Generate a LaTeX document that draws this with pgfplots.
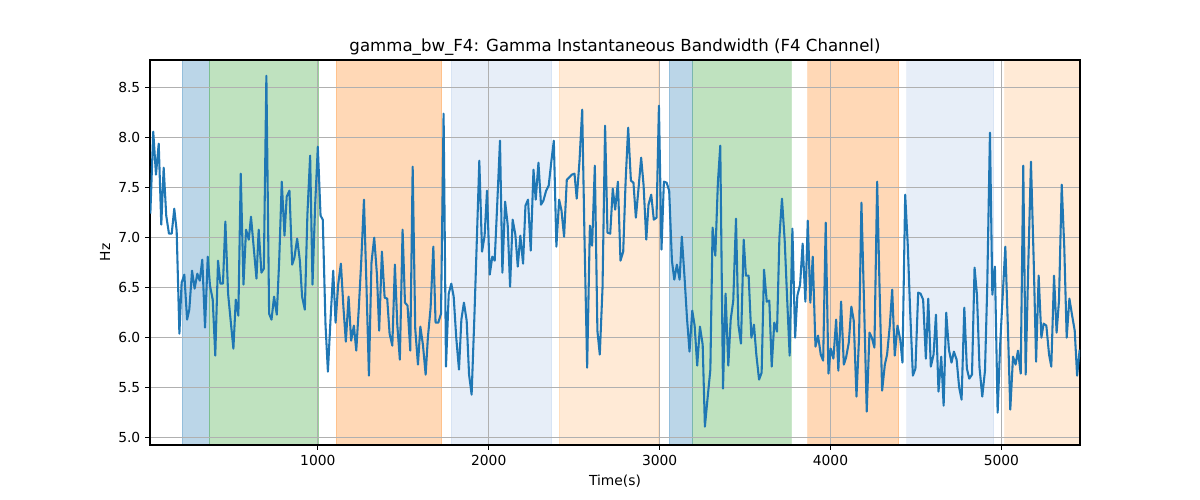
\documentclass[border=0pt]{standalone}
\usepackage{fontspec}
\setmainfont{DejaVu Sans}
\usepackage{pgfplots}
\pgfplotsset{compat=1.18}
\definecolor{tabblue}{HTML}{1F77B4}
\definecolor{tabgreen}{HTML}{2CA02C}
\definecolor{taborange}{HTML}{FF7F0E}
\definecolor{lightblue}{HTML}{AEC7E8}
\definecolor{lightorange}{HTML}{FFBB78}
\definecolor{gridgray}{HTML}{B0B0B0}
\tikzset{span/.style={fill=#1, draw=#1, fill opacity=0.3, draw opacity=0.25, line width=0.5pt}}

\pgfplotstableread{
x y
20 7.24
37 8.06
53 7.63
69 7.94
84 7.13
98 7.70
113 7.22
129 7.04
145 7.04
160 7.29
174 7.07
190 6.04
203 6.55
219 6.63
235 6.18
248 6.28
264 6.67
279 6.49
295 6.64
309 6.57
324 6.78
340 6.10
356 6.81
369 6.52
385 6.38
400 5.82
416 6.77
430 6.54
445 6.54
459 7.16
475 6.44
490 6.17
506 5.89
520 6.38
535 6.22
549 7.64
565 6.53
580 7.08
596 6.98
609 7.21
625 6.90
641 6.59
654 7.08
670 6.65
684 6.69
699 8.62
715 6.24
729 6.18
744 6.41
760 6.23
774 6.77
789 7.56
805 7.02
818 7.41
834 7.47
850 6.73
863 6.80
879 6.99
895 6.77
908 6.41
924 6.28
939 7.23
955 7.82
969 6.53
984 7.31
1000 7.91
1016 7.22
1029 7.18
1045 6.13
1059 5.66
1074 6.17
1090 6.67
1104 6.15
1119 6.53
1135 6.74
1150 6.30
1164 5.96
1180 6.41
1195 5.97
1211 6.12
1225 5.87
1240 6.30
1254 6.76
1270 7.38
1285 6.50
1299 5.62
1314 6.75
1330 7.00
1346 6.63
1359 6.07
1375 6.86
1391 6.40
1406 6.39
1420 6.04
1436 5.92
1451 6.73
1465 6.13
1480 5.78
1496 7.08
1510 6.35
1525 6.32
1541 5.87
1555 7.71
1570 6.09
1586 5.73
1600 6.11
1615 5.93
1631 5.63
1644 6.00
1660 6.30
1676 6.91
1689 6.15
1705 6.15
1721 6.24
1736 8.24
1750 5.71
1766 6.44
1781 6.54
1795 6.41
1810 6.00
1826 5.68
1840 6.18
1855 6.35
1871 6.17
1885 5.63
1900 5.43
1916 6.20
1930 6.95
1945 7.77
1961 6.86
1976 7.02
1990 7.47
2006 6.63
2021 6.81
2035 6.77
2051 7.38
2066 7.97
2080 6.65
2096 7.36
2111 7.13
2125 6.51
2140 7.18
2156 7.03
2170 6.71
2185 7.02
2201 6.74
2215 7.32
2230 7.38
2246 6.87
2262 7.68
2275 7.38
2291 7.75
2306 7.33
2320 7.37
2336 7.47
2351 7.52
2367 7.77
2381 7.97
2396 6.91
2412 7.38
2426 7.27
2441 7.01
2457 7.58
2470 7.60
2486 7.63
2502 7.64
2515 7.39
2531 7.76
2547 8.28
2561 6.95
2576 5.70
2592 7.12
2605 6.92
2621 7.72
2636 6.07
2650 5.83
2666 6.50
2681 8.12
2695 7.05
2711 7.04
2726 7.49
2740 7.28
2756 7.56
2771 6.77
2787 6.86
2801 7.56
2816 8.10
2832 7.57
2847 7.55
2861 7.20
2877 7.50
2892 7.80
2906 7.53
2922 6.98
2935 7.33
2951 7.43
2966 7.18
2982 7.20
2996 8.32
3011 6.88
3025 7.56
3041 7.55
3056 7.47
3072 6.77
3086 6.58
3101 6.73
3117 6.58
3130 7.01
3146 6.60
3160 6.20
3175 5.86
3191 6.27
3205 6.12
3220 5.72
3236 6.11
3252 5.93
3265 5.11
3281 5.40
3297 5.68
3310 7.10
3326 6.82
3341 7.55
3355 7.92
3371 5.49
3386 6.44
3402 5.72
3416 6.18
3431 6.37
3447 7.19
3461 6.13
3476 5.94
3492 6.98
3505 6.62
3521 6.62
3537 6.00
3552 6.13
3566 5.83
3582 5.58
3597 5.65
3611 6.68
3627 6.36
3642 6.37
3656 5.71
3671 6.15
3687 6.06
3701 7.00
3716 7.39
3732 6.97
3746 6.40
3761 5.82
3777 7.09
3793 6.00
3806 6.42
3822 6.53
3837 6.94
3853 6.36
3867 7.17
3882 6.35
3896 6.81
3912 5.91
3927 6.02
3943 5.83
3957 5.77
3972 7.15
3988 5.64
4001 5.89
4017 5.79
4033 6.18
4046 5.67
4062 6.36
4078 5.73
4091 5.80
4107 5.95
4122 6.31
4136 6.17
4152 5.41
4167 6.00
4181 7.35
4197 6.30
4212 5.26
4228 6.05
4242 6.00
4257 5.90
4273 7.56
4287 6.50
4302 5.47
4318 5.73
4331 5.83
4347 6.12
4361 6.48
4376 5.82
4392 6.12
4408 5.98
4421 5.75
4437 7.43
4452 6.93
4466 6.27
4482 5.62
4497 5.69
4513 6.45
4527 6.44
4542 6.38
4558 5.79
4572 6.39
4587 5.71
4603 5.83
4617 6.23
4632 5.46
4648 5.81
4662 5.32
4677 6.25
4693 5.88
4708 5.75
4722 5.86
4738 5.78
4753 5.50
4767 5.38
4783 6.30
4798 5.69
4812 5.59
4828 5.63
4843 6.70
4857 6.43
4872 5.70
4888 5.41
4904 5.67
4917 6.50
4933 8.05
4947 6.43
4962 6.71
4978 5.25
4992 5.90
5007 6.40
5023 6.91
5038 6.10
5052 5.28
5068 5.81
5083 5.73
5097 5.87
5113 5.64
5128 7.72
5142 5.63
5158 6.77
5173 7.76
5189 6.77
5203 5.76
5218 6.62
5234 6.00
5247 6.14
5263 6.12
5279 5.83
5292 5.71
5308 6.62
5323 6.05
5337 6.37
5353 7.53
5368 6.90
5382 6.00
5398 6.39
5413 6.23
5429 6.07
5443 5.62
5458 5.88
}\bwdata

\begin{document}
\begin{tikzpicture}
\begin{axis}[
  name=ax,
  set layers,
  width=9.3in, height=3.85in, scale only axis,
  xmin=18, xmax=5460, ymin=4.926, ymax=8.777,
  xtick={1000,2000,3000,4000,5000},
  ytick={5,5.5,6,6.5,7,7.5,8,8.5},
  /pgf/number format/assume math mode=true,
  x tick label style={/pgf/number format/1000 sep={}},
  y tick label style={/pgf/number format/.cd, fixed, fixed zerofill, precision=1},
  ticklabel style={font=\fontsize{10pt}{12pt}\selectfont},
  tick align=outside, tick pos=left,
  major tick length=3.5pt,
  every tick/.style={black, line width=0.8pt},
  axis line style={line width=0.8pt},
  grid=major,
  grid style={color=gridgray, line width=0.8pt},
  title={gamma\_bw\_F4: Gamma Instantaneous Bandwidth (F4 Channel)},
  every axis title/.style={font=\fontsize{12pt}{14pt}\selectfont, at={(0.5,1)}, anchor=base, yshift=6pt},
  xlabel={Time(s)},
  xlabel style={font=\fontsize{10pt}{12pt}\selectfont, at={(axis description cs:0.5,-0.0935)}, anchor=center},
  ylabel={Hz},
  ylabel style={font=\fontsize{10pt}{12pt}\selectfont, at={(axis description cs:-0.0484,0.5)}, anchor=center},
]
% shaded phases, below the grid (background layer is not clipped)
\begin{pgfonlayer}{axis background}
\filldraw[span=tabblue] (axis cs:206,4.926) rectangle (axis cs:366,8.777);
\filldraw[span=tabgreen] (axis cs:366,4.926) rectangle (axis cs:1004,8.777);
\filldraw[span=taborange] (axis cs:1107,4.926) rectangle (axis cs:1724,8.777);
\filldraw[span=lightblue] (axis cs:1781,4.926) rectangle (axis cs:2369,8.777);
\filldraw[span=lightorange] (axis cs:2412,4.926) rectangle (axis cs:2994,8.777);
\filldraw[span=tabblue] (axis cs:3056,4.926) rectangle (axis cs:3193,8.777);
\filldraw[span=tabgreen] (axis cs:3193,4.926) rectangle (axis cs:3769,8.777);
\filldraw[span=taborange] (axis cs:3867,4.926) rectangle (axis cs:4398,8.777);
\filldraw[span=lightblue] (axis cs:4445,4.926) rectangle (axis cs:4954,8.777);
\filldraw[span=lightorange] (axis cs:5019,4.926) rectangle (axis cs:5460,8.777);
\end{pgfonlayer}
\addplot[tabblue, line width=1.5pt, line join=round, mark=none] table[x=x, y=y] {\bwdata};
\end{axis}
\pgfresetboundingbox
\useasboundingbox ([xshift=-1.5in, yshift=-0.55in]ax.south west) rectangle ([xshift=1.2in, yshift=0.6in]ax.north east);
\end{tikzpicture}
\end{document}
